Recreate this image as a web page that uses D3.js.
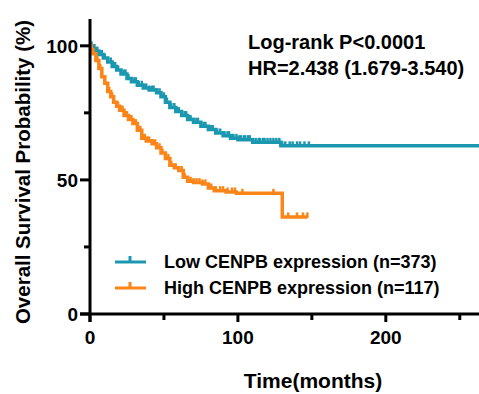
<!DOCTYPE html>
<html>
<head>
<meta charset="utf-8">
<script src="https://cdn.jsdelivr.net/npm/d3@7"></script>
<style>
  body { margin: 0; background: #fff; }
  svg { display: block; }
  text { font-family: 'Liberation Sans', Arial, sans-serif; font-weight: bold; fill: #000; }
</style>
</head>
<body>
<div id="chart"></div>
<script>
// survival curves (months, % surviving)
const lowTime = [0, 2, 4, 6, 9, 12, 15, 18, 21, 25, 28, 32, 36, 40, 45, 48, 51, 54, 58, 62, 66, 70, 75, 80, 85, 90, 95, 100, 110, 129, 263];
const lowSurv = [100, 99, 98, 96.8, 95.5, 94, 92.3, 91, 89.5, 87.8, 86.6, 85.3, 84.3, 83.5, 82.5, 81, 79, 77, 75.5, 74, 72.5, 71.5, 70, 68.8, 67.5, 66.5, 65.5, 65, 64, 62.7, 62.7];
const lowCensor = [1, 3, 5, 7, 8, 10, 12, 14, 16, 17, 19, 21, 23, 24, 26, 28, 30, 31, 33, 35, 36, 38, 40, 42, 43, 45, 47, 48, 50, 52, 54, 55, 57, 59, 60, 62, 64, 65, 67, 68, 70, 72, 73, 75, 77, 78, 80, 82, 83, 85, 86, 88, 90, 91, 93, 94, 96, 97, 99, 101, 102, 104, 105, 107, 108, 110, 112, 114, 115, 117, 118, 120, 122, 124, 126, 128, 130, 132, 135, 137, 140, 142, 145, 148];

const highTime = [0, 1, 2, 4, 6, 8, 10, 12, 14, 16, 18, 20, 23, 26, 29, 32, 35, 38, 42, 45, 48, 51, 54, 57, 60, 63, 66, 70, 76, 80, 84, 92, 99, 130, 147];
const highSurv = [100, 98.5, 97, 94.5, 91.5, 88.5, 86, 83, 81, 79, 77.5, 76, 74, 72.5, 71, 68.5, 65.5, 64.5, 63.5, 62, 60, 58, 55.5, 54.5, 53.5, 51, 49.5, 49, 48.5, 47, 46, 45.5, 45, 36.2, 36.2];
const highCensor = [1, 2, 4, 5, 7, 8, 10, 12, 13, 15, 16, 18, 19, 21, 22, 24, 25, 27, 28, 30, 31, 33, 34, 36, 37, 39, 40, 42, 44, 45, 47, 49, 51, 53, 55, 57, 58, 60, 62, 64, 66, 68, 70, 72, 74, 76, 78, 80, 82, 85, 88, 90, 93, 96, 98, 103, 124, 134, 140, 144, 147];

const seriesNames = ['Low CENPB expression (n=373)', 'High CENPB expression (n=117)'];
const seriesColors = ['#1b98b0', '#fb8519'];
const xTicks = [0, 100, 200];
const xMinor = [50, 150, 250];
const yTicks = [0, 50, 100];
const yMinor = [25, 75];
const statLines = ['Log-rank P<0.0001', 'HR=2.438 (1.679-3.540)'];

const width = 479, height = 394;
const svg = d3.select('#chart').append('svg')
  .attr('width', width)
  .attr('height', height);

const x = d3.scaleLinear().domain([0, 263]).range([90, 479]);
const y = d3.scaleLinear().domain([0, 110]).range([314, 19]);

const series = [
  { time: lowTime, surv: lowSurv, censor: lowCensor },
  { time: highTime, surv: highSurv, censor: highCensor }
];

const line = d3.line()
  .x(d => x(d[0]))
  .y(d => y(d[1]))
  .curve(d3.curveStepAfter);

// survival value at time t (step function)
function survAt(s, t) {
  let v = s.surv[0];
  for (let i = 0; i < s.time.length; i++) {
    if (s.time[i] <= t) v = s.surv[i];
  }
  return v;
}

series.forEach((s, i) => {
  const pts = s.time.map((t, j) => [t, s.surv[j]]);
  svg.append('path')
    .attr('d', line(pts))
    .attr('fill', 'none')
    .attr('stroke', seriesColors[i])
    .attr('stroke-width', 3.5);

  svg.selectAll(null)
    .data(s.censor)
    .enter()
    .append('line')
    .attr('x1', d => x(d))
    .attr('x2', d => x(d))
    .attr('y1', d => y(survAt(s, d)) + 1)
    .attr('y2', d => y(survAt(s, d)) - 4.5)
    .attr('stroke', seriesColors[i])
    .attr('stroke-width', 2.5);
});

// axes
const xAxis = svg.append('g').attr('transform', `translate(0, ${y(0)})`);
xAxis.append('line')
  .attr('x1', 80).attr('x2', 479)
  .attr('stroke', '#000').attr('stroke-width', 3);
xAxis.selectAll('.major')
  .data(xTicks).enter().append('line')
  .attr('x1', d => x(d)).attr('x2', d => x(d))
  .attr('y1', 0).attr('y2', 8)
  .attr('stroke', '#000').attr('stroke-width', 3);
xAxis.selectAll('.minor')
  .data(xMinor).enter().append('line')
  .attr('x1', d => x(d)).attr('x2', d => x(d))
  .attr('y1', 0).attr('y2', 6)
  .attr('stroke', '#000').attr('stroke-width', 3);
xAxis.selectAll('text')
  .data(xTicks).enter().append('text')
  .attr('x', d => x(d))
  .attr('y', 30)
  .attr('text-anchor', 'middle')
  .attr('font-size', '19px')
  .text(d => d);

const yAxis = svg.append('g').attr('transform', `translate(${x(0)}, 0)`);
yAxis.append('line')
  .attr('y1', y(110)).attr('y2', y(0) + 8)
  .attr('stroke', '#000').attr('stroke-width', 3);
yAxis.selectAll('.major')
  .data(yTicks).enter().append('line')
  .attr('x1', -10).attr('x2', 0)
  .attr('y1', d => y(d)).attr('y2', d => y(d))
  .attr('stroke', '#000').attr('stroke-width', 3);
yAxis.selectAll('.minor')
  .data(yMinor).enter().append('line')
  .attr('x1', -6).attr('x2', 0)
  .attr('y1', d => y(d)).attr('y2', d => y(d))
  .attr('stroke', '#000').attr('stroke-width', 3);
yAxis.selectAll('text')
  .data(yTicks).enter().append('text')
  .attr('x', -12)
  .attr('y', d => y(d) + 7)
  .attr('text-anchor', 'end')
  .attr('font-size', '19px')
  .text(d => d);

// axis titles
svg.append('text')
  .attr('x', 313)
  .attr('y', 388)
  .attr('text-anchor', 'middle')
  .attr('font-size', '21px')
  .text('Time(months)');

svg.append('text')
  .attr('transform', 'translate(30, 172) rotate(-90)')
  .attr('text-anchor', 'middle')
  .attr('font-size', '20.5px')
  .text('Overall Survival Probability (%)');

// stats
statLines.forEach((t, i) => {
  svg.append('text')
    .attr('x', 248)
    .attr('y', 49 + i * 26)
    .attr('font-size', '20px')
    .text(t);
});

// legend
seriesNames.forEach((name, i) => {
  const ly = 262 + i * 26;
  svg.append('line')
    .attr('x1', 115).attr('x2', 146)
    .attr('y1', ly).attr('y2', ly)
    .attr('stroke', seriesColors[i]).attr('stroke-width', 3);
  svg.append('line')
    .attr('x1', 130).attr('x2', 130)
    .attr('y1', ly).attr('y2', ly - 6)
    .attr('stroke', seriesColors[i]).attr('stroke-width', 3);
  svg.append('text')
    .attr('x', 164)
    .attr('y', ly + 6)
    .attr('font-size', '18px')
    .text(name);
});
</script>
</body>
</html>
